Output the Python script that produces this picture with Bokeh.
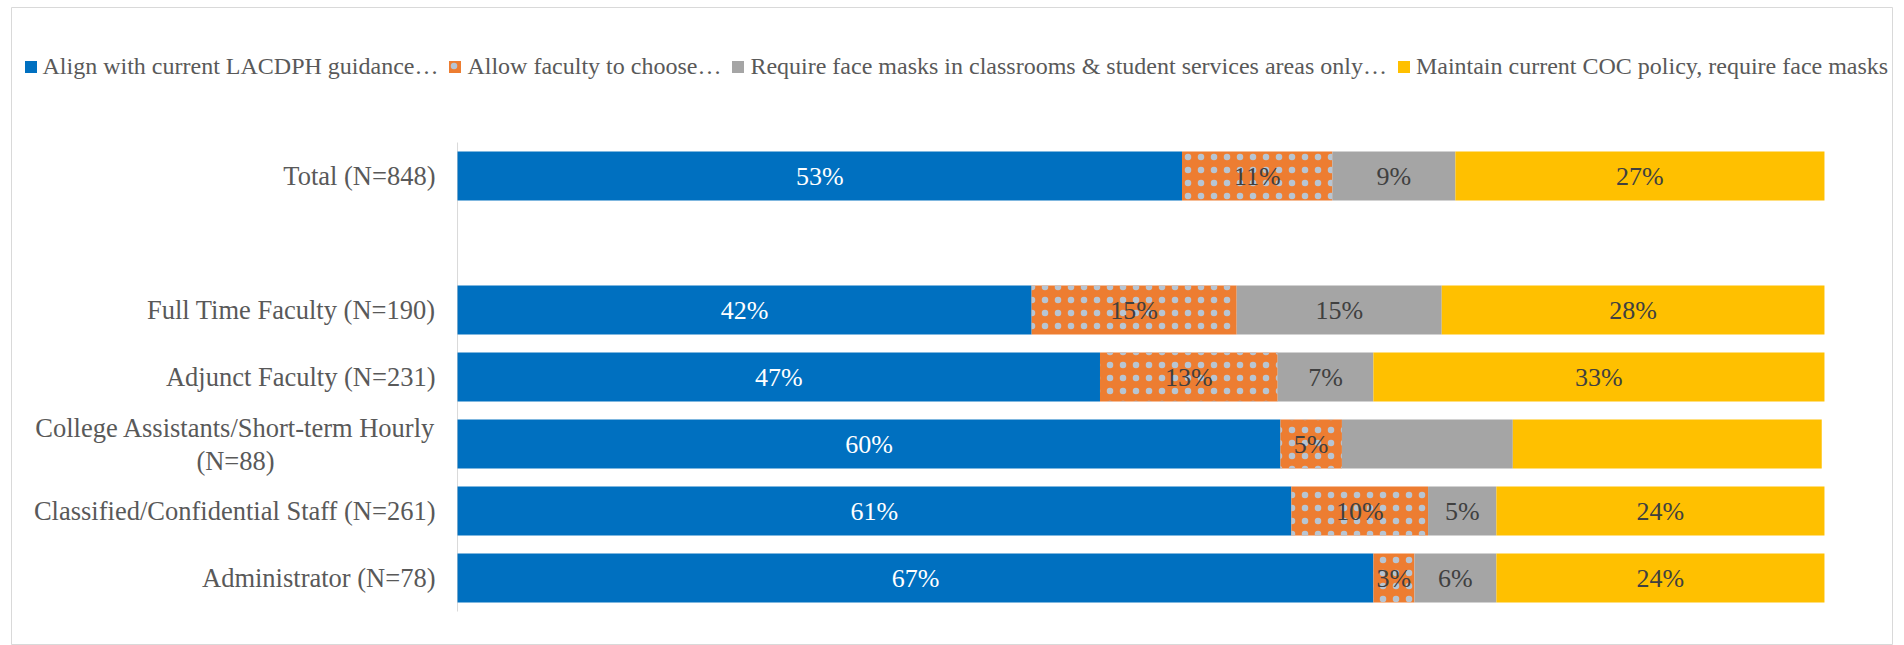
from bokeh.plotting import figure
from bokeh.models import ColumnDataSource, Range1d, Legend, LegendItem
from bokeh.embed import file_html
from bokeh.resources import INLINE
from bokeh.core.properties import value
import numpy as np

# ---- data ----
slots = ["Total (N=848)", "", "Full Time Faculty (N=190)", "Adjunct Faculty (N=231)",
         "College Assistants/Short-term Hourly\n(N=88)",
         "Classified/Confidential Staff (N=261)", "Administrator (N=78)"]
groups = ["Total (N=848)", "Full Time Faculty (N=190)", "Adjunct Faculty (N=231)",
          "College Assistants/Short-term Hourly\n(N=88)",
          "Classified/Confidential Staff (N=261)", "Administrator (N=78)"]
series_names = ["Align with current LACDPH guidance…", "Allow faculty to choose…",
                "Require face masks in classrooms & student services areas only…",
                "Maintain current COC policy, require face masks"]
align = [53, 42, 47, 60.2, 61, 67]
allow = [11, 15, 13, 4.5, 10, 3]
partial = [9, 15, 7, 12.5, 5, 6]
maintain = [27, 28, 33, 22.6, 24, 24]
align_labels = ["53%", "42%", "47%", "60%", "61%", "67%"]
allow_labels = ["11%", "15%", "13%", "5%", "10%", "3%"]
partial_labels = ["9%", "15%", "7%", "", "5%", "6%"]
maintain_labels = ["27%", "28%", "33%", "", "24%", "24%"]

series = [align, allow, partial, maintain]
labels = [align_labels, allow_labels, partial_labels, maintain_labels]
colors = ["#0070C0", "#ED7D31", "#A5A5A5", "#FFC000"]
label_colors = ["#FFFFFF", "#404040", "#404040", "#404040"]

FONT = "Liberation Serif"

# row position of each slot (top to bottom)
slot_pos = {s: i for i, s in enumerate(slots)}
ypos = [slot_pos[g] for g in groups]
n = len(slots)

p = figure(width=1882, height=638,
           x_range=Range1d(-32.63, 105.05),
           y_range=Range1d(n - 0.5 + 0.507, -2.515),
           output_backend="svg", toolbar_location=None,
           x_axis_location=None, y_axis_location=None,
           min_border=0)
p.margin = (7, 0, 0, 11)
p.outline_line_color = "#d9d9d9"
p.xgrid.visible = False
p.ygrid.visible = False

# axis line at 0%
p.segment(x0=[0], y0=[-0.5], x1=[0], y1=[n - 0.5], line_color="#d9d9d9", line_width=1)

# category labels
single = [s for s in slots if s and "\n" not in s]
p.text(x=[0] * len(single), y=[slot_pos[s] for s in single], text=single,
       x_offset=-22, text_align="right", text_baseline="middle",
       text_font=value(FONT), text_font_size="26.5px", text_color="#595959")
multi = [s for s in slots if "\n" in s]
p.text(x=[0] * len(multi), y=[slot_pos[s] for s in multi], text=multi,
       x_offset=-222, text_align="center", text_baseline="middle", text_line_height=1.1,
       text_font=value(FONT), text_font_size="26.5px", text_color="#595959")

left = np.zeros(len(groups))
items = []
for i, (vals, labs) in enumerate(zip(series, labels)):
    vals = np.array(vals, dtype=float)
    src = ColumnDataSource(dict(y=ypos, left=left, right=left + vals,
                                xc=left + vals / 2, lab=labs))
    kw = {}
    if i == 1:
        kw = dict(hatch_pattern="dot", hatch_color="#b7c5d3", hatch_scale=13, hatch_weight=0.3)
    r = p.hbar(y="y", left="left", right="right", height=0.73, source=src,
               fill_color=colors[i], line_color=None, **kw)
    items.append(LegendItem(label=series_names[i], renderers=[r]))
    p.text(x="xc", y="y", text="lab", source=src, text_align="center",
           text_baseline="middle", text_font=value(FONT), text_font_size="26px",
           text_color=label_colors[i])
    left = left + vals

legend = Legend(items=items, orientation="horizontal", location=(11.5, 565),
                glyph_width=15, glyph_height=15, label_standoff=5, spacing=9,
                padding=0, margin=0, border_line_color=None, background_fill_alpha=0,
                label_text_font=FONT, label_text_font_size="24px",
                label_text_color="#595959")
p.add_layout(legend, "center")

open("out.html", "w").write(file_html(p, INLINE))
